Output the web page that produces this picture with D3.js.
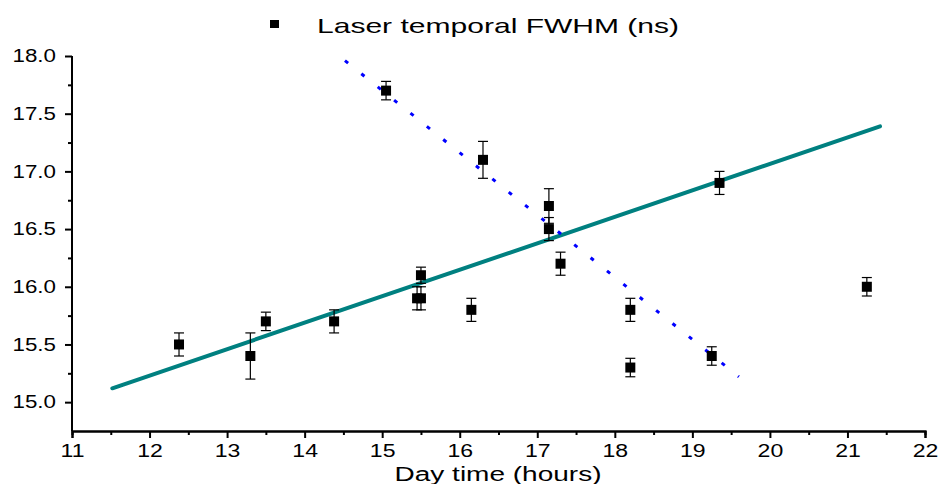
<!DOCTYPE html>
<html>
<head>
<meta charset="utf-8">
<script src="https://cdn.jsdelivr.net/npm/d3@7"></script>
<style>
  body { margin: 0; background: #fff; }
  text { font-family: "Liberation Sans", Arial, sans-serif; }
</style>
</head>
<body>
<div id="chart"></div>
<script>
// measured points
const hours = [12.38, 13.3, 13.5, 14.38, 15.45, 15.5, 15.5, 16.15, 17.3, 15.05, 16.3, 17.15, 17.15, 18.2, 18.2, 19.25, 19.35, 21.25]
const fwhm  = [15.5, 15.4, 15.7, 15.7, 15.9, 15.9, 16.1, 15.8, 16.2, 17.7, 17.1, 16.7, 16.5, 15.8, 15.3, 15.4, 16.9, 16.0]
const errs  = [0.1, 0.2, 0.08, 0.1, 0.1, 0.1, 0.07, 0.1, 0.1, 0.08, 0.16, 0.15, 0.1, 0.1, 0.08, 0.08, 0.1, 0.08]

// rising fit (teal) and falling fit (blue dotted), end points
const fitUpX   = [11.52, 21.42]
const fitUpY   = [15.12, 17.39]
const fitDownX = [14.52, 19.6]
const fitDownY = [17.96, 15.22]

const xTicks = [11, 12, 13, 14, 15, 16, 17, 18, 19, 20, 21, 22]
const yTicks = [15.0, 15.5, 16.0, 16.5, 17.0, 17.5, 18.0]

const W = 939, H = 484
const MARGIN = {top: 56, right: 14, bottom: 53, left: 72}

// the original text is drawn wide, stretch it horizontally
function stretch(sel, k) {
    sel.each(function() {
        const len = this.getComputedTextLength()
        d3.select(this)
            .attr("textLength", len * k)
            .attr("lengthAdjust", "spacingAndGlyphs")
    })
}

const svg = d3.select("#chart").append("svg")
    .attr("width", W)
    .attr("height", H)

const x = d3.scaleLinear().domain([11, 22]).range([MARGIN.left, W - MARGIN.right])
const y = d3.scaleLinear().domain([14.75, 18.0]).range([H - MARGIN.bottom, MARGIN.top])

// x axis
const xAxis = svg.append("g")
    .attr("transform", `translate(0, ${H - MARGIN.bottom})`)
xAxis.append("g")
    .call(d3.axisBottom(x).tickValues(d3.range(11.5, 22, 1)).tickSize(4).tickFormat(""))
xAxis.append("g")
    .call(d3.axisBottom(x).tickValues(xTicks).tickSize(7).tickPadding(6).tickFormat(d3.format("d")))
xAxis.selectAll("text").style("font-size", "18px").attr("fill", "#000")
xAxis.selectAll("path, line").attr("stroke", "#000").attr("stroke-width", 2)
stretch(xAxis.selectAll("text"), 1.28)

// y axis
const yAxis = svg.append("g")
    .attr("transform", `translate(${MARGIN.left}, 0)`)
yAxis.append("g")
    .call(d3.axisLeft(y).tickValues(d3.range(15.25, 18, 0.5)).tickSize(4).tickFormat(""))
yAxis.append("g")
    .call(d3.axisLeft(y).tickValues(yTicks).tickSize(7).tickPadding(9).tickFormat(d3.format(".1f")))
yAxis.selectAll("text").style("font-size", "18px").attr("fill", "#000")
yAxis.selectAll("path, line").attr("stroke", "#000").attr("stroke-width", 2)
yAxis.selectAll(".domain").attr("d", `M0,${y(14.75)}V${y(18.0)}`)
stretch(yAxis.selectAll("text"), 1.24)

// axis title
svg.append("text")
    .attr("x", 498)
    .attr("y", 481)
    .attr("text-anchor", "middle")
    .style("font-size", "20px")
    .text("Day time (hours)")
    .call(stretch, 1.4)

// fit lines
const line = d3.line().x(d => x(d[0])).y(d => y(d[1]))

svg.append("path")
    .datum(d3.zip(fitUpX, fitUpY))
    .attr("d", line)
    .attr("fill", "none")
    .attr("stroke", "#008080")
    .attr("stroke-width", 4)
    .attr("stroke-linecap", "round")

svg.append("path")
    .datum(d3.zip(fitDownX, fitDownY))
    .attr("d", line)
    .attr("fill", "none")
    .attr("stroke", "#0000ff")
    .attr("stroke-width", 3)
    .attr("stroke-dasharray", "4,17")

// error bars + points
const pts = hours.map((h, i) => ({x: h, y: fwhm[i], e: errs[i]}))
const cap = 5
const eb = svg.append("g").attr("stroke", "#000").attr("stroke-width", 1.2)
eb.selectAll("line.v").data(pts).join("line")
    .attr("x1", d => x(d.x)).attr("x2", d => x(d.x))
    .attr("y1", d => y(d.y - d.e)).attr("y2", d => y(d.y + d.e))
eb.selectAll("line.t").data(pts).join("line")
    .attr("x1", d => x(d.x) - cap).attr("x2", d => x(d.x) + cap)
    .attr("y1", d => y(d.y + d.e)).attr("y2", d => y(d.y + d.e))
eb.selectAll("line.b").data(pts).join("line")
    .attr("x1", d => x(d.x) - cap).attr("x2", d => x(d.x) + cap)
    .attr("y1", d => y(d.y - d.e)).attr("y2", d => y(d.y - d.e))

const size = 10
svg.append("g").selectAll("rect").data(pts).join("rect")
    .attr("x", d => x(d.x) - size / 2)
    .attr("y", d => y(d.y) - size / 2)
    .attr("width", size)
    .attr("height", size)
    .attr("fill", "#000")

// legend
svg.append("rect")
    .attr("x", 270).attr("y", 20).attr("width", 9).attr("height", 8)
    .attr("fill", "#000")
svg.append("text")
    .attr("x", 317)
    .attr("y", 33)
    .style("font-size", "21px")
    .text("Laser temporal FWHM (ns)")
    .call(stretch, 1.43)
</script>
</body>
</html>
